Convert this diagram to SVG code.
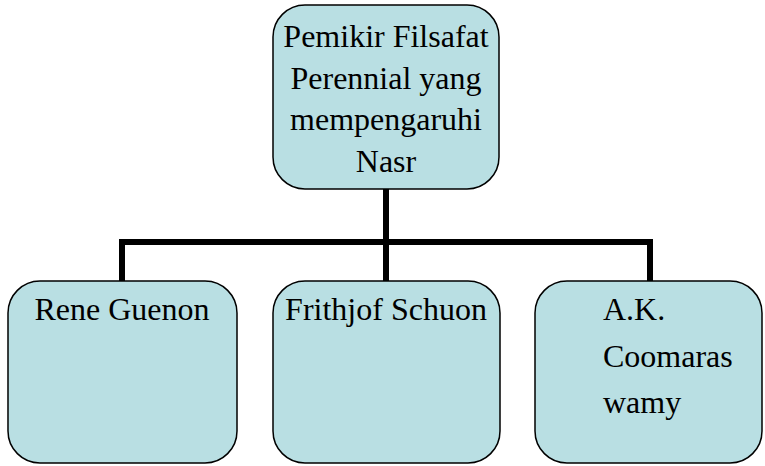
<svg xmlns="http://www.w3.org/2000/svg" width="765" height="466" viewBox="0 0 765 466">
<style>
.box{fill:#b9dfe3;stroke:#000;stroke-width:1.5}
.t{font-family:"Liberation Serif","Times New Roman",serif;font-size:32px;fill:#000}
.c{text-anchor:middle}
.con{fill:none;stroke:#000;stroke-width:6}
</style>
<rect width="765" height="466" fill="#fff"/>
<g id="connectors">
<path class="con" d="M386 189V242M122 281V242H650V281M386 242V281"/>
</g>
<g id="root">
<rect class="box" x="273" y="5" width="226" height="184" rx="32"/>
<text class="t c" x="386" y="47">Pemikir Filsafat</text>
<text class="t c" x="386" y="89">Perennial yang</text>
<text class="t c" x="386" y="130">mempengaruhi</text>
<text class="t c" x="386" y="172">Nasr</text>
</g>
<g id="guenon">
<rect class="box" x="8" y="281" width="229" height="182" rx="32"/>
<text class="t c" x="122" y="320">Rene Guenon</text>
</g>
<g id="schuon">
<rect class="box" x="273" y="281" width="227" height="182" rx="32"/>
<text class="t c" x="386" y="320">Frithjof Schuon</text>
</g>
<g id="coomaraswamy">
<rect class="box" x="535" y="281" width="227" height="182" rx="32"/>
<text class="t" x="603" y="320">A.K.</text>
<text class="t" x="603" y="367">Coomaras</text>
<text class="t" x="603" y="413">wamy</text>
</g>
</svg>
